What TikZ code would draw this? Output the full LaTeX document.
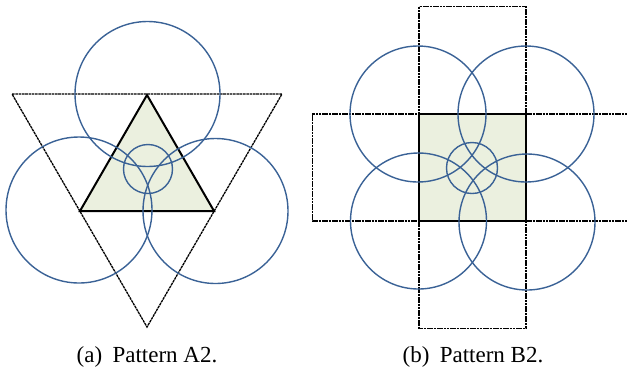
\documentclass[tikz,border=0pt]{standalone}
\usepackage{fontspec}
\setmainfont{Liberation Serif}
\definecolor{cblue}{HTML}{3A6296}
\definecolor{cfill}{HTML}{EBF0DF}
\tikzset{
  ring/.style={draw=cblue, line width=1.4pt},
  dashbox/.style={draw=black, line width=1.3pt, dash pattern=on 2.6pt off 0.7pt},
  core/.style={draw=black, line width=2pt, fill=cfill, line join=miter},
  caption/.style={anchor=base, font=\fontsize{23}{27}\selectfont, inner sep=0pt}
}
\begin{document}
\begin{tikzpicture}[x=1pt,y=-1pt]
\useasboundingbox (0,0) rectangle (627,368);
% ---------- (a) ----------
\coordinate (A1) at (12,94);
\coordinate (A2) at (282,94);
\coordinate (A3) at (147,327);
\draw[dashbox] (A1) -- (A2) -- (A3) -- cycle;
\coordinate (T1) at (147,95);
\coordinate (T2) at (80,211);
\coordinate (T3) at (214,211);
\draw[core] (T1) -- (T2) -- (T3) -- cycle;
\draw[ring] (147.5,94) circle[radius=72.5];
\draw[ring] (79,210) circle[radius=73];
\draw[ring] (215.5,211) circle[radius=72.5];
\draw[ring] (148,169) circle[radius=24.5];
\node[caption] (capa) at (147,362) {(a)\hspace{0.45em}Pattern A2.};
% ---------- (b) ----------
\coordinate (H1) at (627,114);
\coordinate (H2) at (312.5,114);
\coordinate (H3) at (312.5,221);
\coordinate (H4) at (627,221);
\coordinate (S1) at (526,114);
\coordinate (S4) at (526,221);
\draw[dashbox] (S1) -- (H2) -- (H3) -- (S4);
\draw[dashbox] (S1) -- (H1);
\draw[dashbox] (S4) -- (H4);
\draw[dashbox] (419,6.5) rectangle (526,328.5);
\draw[core] (419,114) rectangle (526,221);
\draw[ring] (418,114) circle[radius=68];
\draw[ring] (526,114) circle[radius=68];
\draw[ring] (418.5,221) circle[radius=68];
\draw[ring] (527,222) circle[radius=68];
\draw[ring] (472,168) circle[radius=25.5];
\node[caption] (capb) at (473,362) {(b)\hspace{0.45em}Pattern B2.};
\end{tikzpicture}
\end{document}
